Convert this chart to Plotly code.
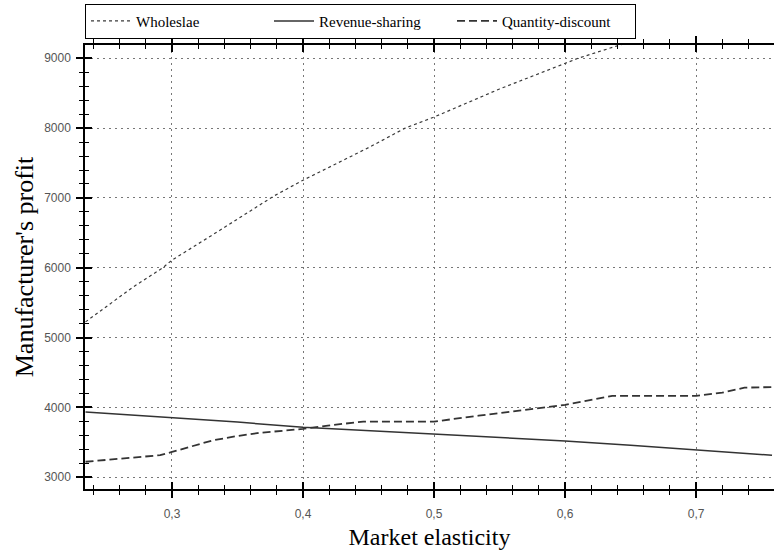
import plotly.graph_objects as go

# Market elasticity values (x) and manufacturer's profit for each contract type
wholesale_x = [0.234, 0.25, 0.27, 0.293, 0.3, 0.33, 0.35, 0.378, 0.4, 0.45, 0.478, 0.5,
               0.55, 0.6, 0.61, 0.642, 0.66, 0.7, 0.76]
wholesale_y = [5225, 5440, 5720, 6000, 6110, 6460, 6700, 7030, 7254, 7720, 8000, 8158,
               8560, 8928, 9000, 9191, 9290, 9520, 9850]

revenue_x = [0.234, 0.3, 0.35, 0.4, 0.45, 0.5, 0.55, 0.6, 0.65, 0.7, 0.758]
revenue_y = [3935, 3858, 3790, 3717, 3670, 3613, 3570, 3519, 3460, 3396, 3316]

quantity_x = [0.234, 0.264, 0.291, 0.3, 0.318, 0.331, 0.348, 0.365, 0.4, 0.419, 0.446,
              0.5, 0.534, 0.567, 0.6, 0.619, 0.636, 0.7, 0.72, 0.737, 0.758]
quantity_y = [3222, 3269, 3316, 3363, 3458, 3528, 3585, 3632, 3693, 3741, 3797,
              3797, 3882, 3962, 4038, 4104, 4165, 4165, 4212, 4283, 4292]

series_names = ["Wholeslae", "Revenue-sharing", "Quantity-discount"]

x_tick_vals = [0.3, 0.4, 0.5, 0.6, 0.7]
x_tick_text = ["0,3", "0,4", "0,5", "0,6", "0,7"]
y_tick_vals = [3000, 4000, 5000, 6000, 7000, 8000, 9000]
y_tick_text = ["3000", "4000", "5000", "6000", "7000", "8000", "9000"]

x_range = [0.2336, 0.7595]
y_range = [2832, 9190]

serif = "Liberation Serif, Times New Roman, serif"
sans = "Liberation Sans, Arial, sans-serif"

fig = go.Figure()
fig.add_trace(go.Scatter(x=wholesale_x, y=wholesale_y, mode="lines", name=series_names[0],
                         line=dict(color="#3a3a3a", width=1.2, dash="dot")))
fig.add_trace(go.Scatter(x=revenue_x, y=revenue_y, mode="lines", name=series_names[1],
                         line=dict(color="#333333", width=1.5)))
fig.add_trace(go.Scatter(x=quantity_x, y=quantity_y, mode="lines", name=series_names[2],
                         line=dict(color="#333333", width=1.8, dash="8px,4px")))

# invisible companion trace so the inward-tick overlay axes get drawn
fig.add_trace(go.Scatter(x=x_range, y=y_range, xaxis="x2", yaxis="y2", mode="lines",
                         line=dict(width=0), opacity=0, showlegend=False, hoverinfo="skip"))

tick_font = dict(family=sans, size=12, color="#555555")

fig.update_layout(
    width=774, height=554,
    margin=dict(l=85, r=0, t=45, b=65),
    paper_bgcolor="white", plot_bgcolor="white",
    showlegend=True,
    legend=dict(orientation="h", x=0, xanchor="left", y=1.093, yanchor="top",
                bordercolor="black", borderwidth=1, bgcolor="white",
                font=dict(family=serif, size=15, color="black"),
                entrywidth=128, itemwidth=40, tracegroupgap=0),
    xaxis=dict(
        range=x_range, tickmode="array", tickvals=x_tick_vals, ticktext=x_tick_text,
        ticks="outside", ticklen=7, tickwidth=1.5, tickcolor="black",
        showline=True, linecolor="black", linewidth=1.5, mirror="allticks",
        showgrid=True, gridcolor="#777777", gridwidth=1, griddash="2px,4px",
        zeroline=False, tickfont=tick_font, ticklabelstandoff=6,
        minor=dict(dtick=0.02, tick0=0.3, ticks="outside", ticklen=4, tickwidth=1,
                   tickcolor="black", showgrid=False),
        title=dict(text="Market elasticity", font=dict(family=serif, size=24, color="black"),
                   standoff=8),
    ),
    yaxis=dict(
        range=y_range, tickmode="array", tickvals=y_tick_vals, ticktext=y_tick_text,
        ticks="outside", ticklen=7, tickwidth=1.5, tickcolor="black",
        showline=True, linecolor="black", linewidth=1.5, mirror=False,
        showgrid=True, gridcolor="#777777", gridwidth=1, griddash="2px,4px",
        zeroline=False, tickfont=tick_font, ticklabelstandoff=3,
        minor=dict(dtick=200, tick0=3000, ticks="outside", ticklen=4, tickwidth=1,
                   tickcolor="black", showgrid=False),
        title=dict(text="Manufacturer's profit", font=dict(family=serif, size=26, color="black"),
                   standoff=3),
    ),
    xaxis2=dict(
        range=x_range, overlaying="x", anchor="y2", side="bottom",
        tickmode="array", tickvals=x_tick_vals, showticklabels=False,
        ticks="inside", ticklen=7, tickwidth=1.5, tickcolor="black",
        showline=False, mirror="allticks", showgrid=False, zeroline=False,
        minor=dict(dtick=0.02, tick0=0.3, ticks="inside", ticklen=4, tickwidth=1,
                   tickcolor="black", showgrid=False),
    ),
    yaxis2=dict(
        range=y_range, overlaying="y", anchor="x2", side="left",
        tickmode="array", tickvals=y_tick_vals, showticklabels=False,
        ticks="inside", ticklen=7, tickwidth=1.5, tickcolor="black",
        showline=False, showgrid=False, zeroline=False,
        minor=dict(dtick=200, tick0=3000, ticks="inside", ticklen=4, tickwidth=1,
                   tickcolor="black", showgrid=False),
    ),
)

fig.write_html("out.html")
